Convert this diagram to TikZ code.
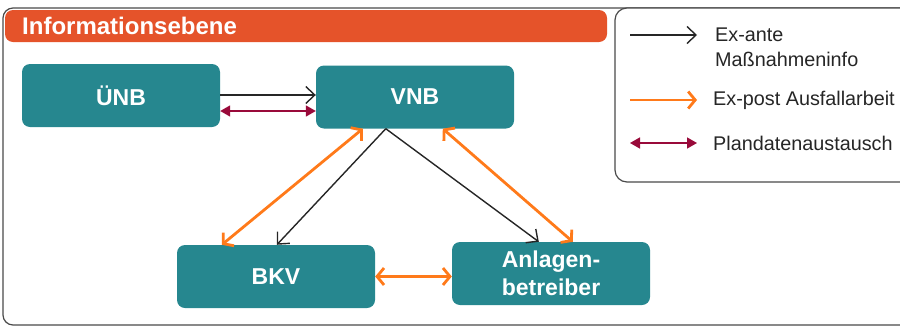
\documentclass[tikz,border=0pt]{standalone}
\usepackage{fontspec}
\setmainfont{Liberation Sans}
\usetikzlibrary{arrows.meta,calc}
\definecolor{teal}{HTML}{26878F}
\definecolor{barorange}{HTML}{E5532A}
\definecolor{arrorange}{HTML}{FF7A1A}
\definecolor{maroon}{HTML}{990A3A}
\definecolor{framegrey}{HTML}{4A4A4A}
\tikzset{
  actor/.style={fill=teal, rounded corners=8pt, minimum width=198pt, minimum height=63pt,
    text=white, font=\fontsize{23}{28}\selectfont\bfseries, align=center, inner sep=0pt},
  exante/.style={draw=black!85, line width=1.4pt, -{Straight Barb[length=9pt,width=17pt,line width=1.4pt]}},
  expost/.style={draw=arrorange, line width=2.8pt, {Straight Barb[length=7pt,width=17pt,line width=2.8pt]}-{Straight Barb[length=7pt,width=17pt,line width=2.8pt]}},
  plandaten/.style={draw=maroon, line width=1.5pt, {Triangle[length=10pt,width=11pt]}-{Triangle[length=10pt,width=11pt]}},
  legtext/.style={anchor=west, font=\fontsize{19.8}{25}\selectfont, text=black!85, align=left, inner sep=0pt},
}
\begin{document}
\begin{tikzpicture}[x=1pt,y=-1pt]
\useasboundingbox (0,0) rectangle (900,327);
\clip (0,0) rectangle (900,327);
% outer frame
\draw[framegrey, line width=1.2pt, rounded corners=10pt] (3,8) rectangle (920,325);
% header bar
\fill[barorange, rounded corners=8pt] (5,10) rectangle (607,42);
\node[anchor=west, text=white, font=\fontsize{24}{26}\selectfont\bfseries, inner sep=0pt] (title) at (22,26) {Informationsebene};
% legend
\draw[framegrey, line width=1.2pt, fill=white, rounded corners=12pt] (615,8) rectangle (920,182);
\coordinate (l1a) at (630,35); \coordinate (l1b) at (697,35);
\coordinate (l2a) at (630,100); \coordinate (l2b) at (697,100);
\coordinate (l3a) at (630,143); \coordinate (l3b) at (697,143);
\draw[exante] (l1a) -- (l1b);
\draw[draw=arrorange, line width=2.8pt, -{Straight Barb[length=7pt,width=17pt,line width=2.8pt]}] (l2a) -- (l2b);
\draw[plandaten] (l3a) -- (l3b);
\node[legtext] (t1) at (715,47.5) {Ex-ante\\Maßnahmeninfo};
\node[legtext] (t2) at (713,100) {Ex-post Ausfallarbeit};
\node[legtext] (t3) at (713,143) {Plandatenaustausch};
% actors
\node[actor] (unb) at (121,95.5) {ÜNB};
\node[actor] (vnb) at (415,97) {VNB};
\node[actor] (bkv) at (276,276.5) {BKV};
\node[actor] (anl) at (551,273.5) {Anlagen-\\betreiber};
% connectors
\draw[exante] (unb.east |- 0,95) -- (vnb.west |- 0,95);
\draw[plandaten] (unb.east |- 0,111) -- (vnb.west |- 0,111);
\coordinate (v0) at ($(vnb.south west)+(70,0)$);
\coordinate (b0) at ($(bkv.north west)+(100,0)$);
\coordinate (a0) at ($(anl.north west)+(87,0)$);
\draw[exante] (v0) -- (b0);
\draw[exante] (v0) -- (a0);
\coordinate (v1) at ($(vnb.south west)+(47,0)$);
\coordinate (b1) at ($(bkv.north west)+(45,0)$);
\coordinate (v2) at ($(vnb.south west)+(127,0)$);
\coordinate (a2) at ($(anl.north west)+(121,0)$);
\draw[expost] (b1) -- (v1);
\draw[expost] (v2) -- (a2);
\draw[expost] (bkv.east) -- (anl.west |- bkv.east);
\end{tikzpicture}
\end{document}
